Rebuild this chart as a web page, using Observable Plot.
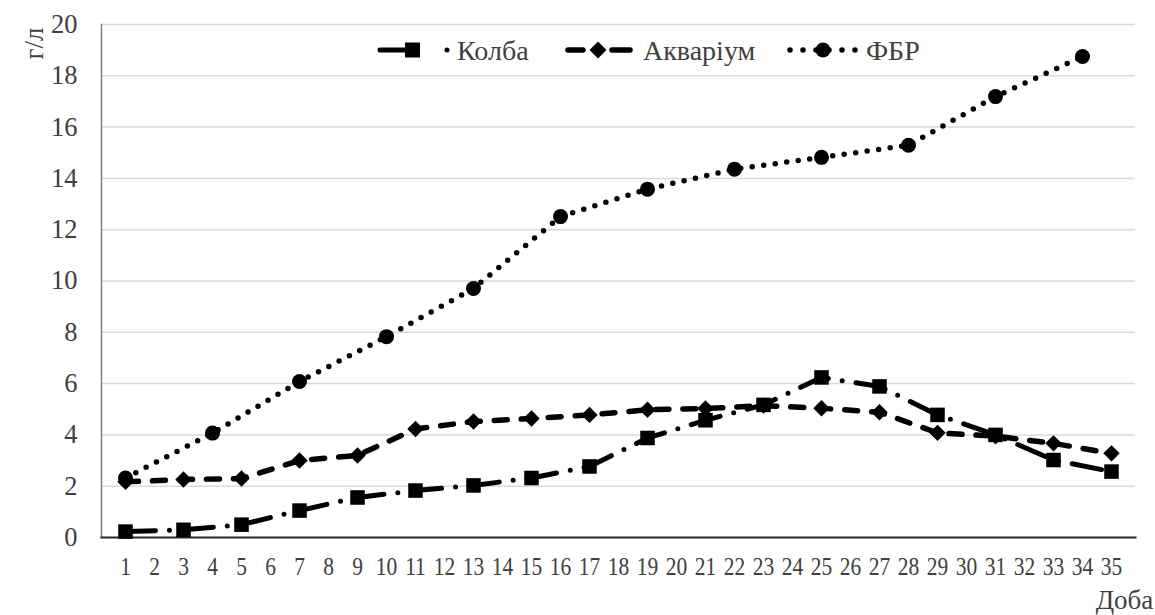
<!DOCTYPE html>
<html>
<head>
<meta charset="utf-8">
<script src="https://cdn.jsdelivr.net/npm/d3@7"></script>
<script src="https://cdn.jsdelivr.net/npm/@observablehq/plot@0.6"></script>
<style>
  html, body { margin: 0; padding: 0; background: #fff; }
  #chart { position: relative; width: 1155px; height: 615px; }
  svg, svg text { font-family: "Liberation Serif", "Times New Roman", serif; }
</style>
</head>
<body>
<div id="chart"></div>
<script>
// ---- data ----
const dayLabels = ["1","2","3","4","5","6","7","8","9","10","11","12","13","14","15","16","17","18","19","20","21","22","23","24","25","26","27","28","29","30","31","32","33","34","35"];
const yTicks = [0, 2, 4, 6, 8, 10, 12, 14, 16, 18, 20];

const seriesNames = ["Колба", "Акваріум", "ФБР"];

const kolbaDays = ["1","3","5","7","9","11","13","15","17","19","21","23","25","27","29","31","33","35"];
const kolbaVals = [0.23, 0.30, 0.50, 1.05, 1.56, 1.83, 2.03, 2.32, 2.77, 3.88, 4.57, 5.17, 6.24, 5.89, 4.78, 4.00, 3.02, 2.57];

const aquaDays = ["1","3","5","7","9","11","13","15","17","19","21","23","25","27","29","31","33","35"];
const aquaVals = [2.17, 2.26, 2.30, 3.00, 3.20, 4.23, 4.52, 4.64, 4.78, 4.98, 5.03, 5.14, 5.04, 4.88, 4.08, 3.95, 3.67, 3.28];

const fbrDays = ["1","4","7","10","13","16","19","22","25","28","31","34"];
const fbrVals = [2.32, 4.07, 6.08, 7.83, 9.71, 12.51, 13.58, 14.36, 14.82, 15.29, 17.19, 18.75];

const yLabel = "г/л";
const xLabel = "Доба";

// ---- tables built from arrays ----
const kolba = kolbaDays.map((d, i) => ({day: d, value: kolbaVals[i]}));
const aqua = aquaDays.map((d, i) => ({day: d, value: aquaVals[i]}));
const fbr = fbrDays.map((d, i) => ({day: d, value: fbrVals[i]}));

const textColor = "#404040";
const fontFamily = "Liberation Serif, Times New Roman, serif";
const styles = {
  kolba: {stroke: "#000", strokeWidth: 5, strokeDasharray: "30 14 0 14", strokeLinecap: "round"},
  aqua: {stroke: "#000", strokeWidth: 5.5, strokeDasharray: "13 14", strokeLinecap: "round"},
  fbr: {stroke: "#000", strokeWidth: 5.5, strokeDasharray: "0 11.6", strokeLinecap: "round"}
};

const chart = Plot.plot({
  width: 1155,
  height: 615,
  marginLeft: 101,
  marginRight: 20,
  marginTop: 24,
  marginBottom: 78,
  style: {fontFamily, background: "#fff"},
  x: {type: "point", domain: dayLabels, padding: 0.5},
  y: {domain: [0, 20]},
  marks: [
    Plot.gridY(yTicks.filter(t => t > 0), {stroke: "#d9d9d9", strokeOpacity: 1, strokeWidth: 1.5}),
    Plot.axisY(yTicks, {tickSize: 0, tickPadding: 24, fontSize: 26.5, fill: textColor, label: null}),
    Plot.axisX(dayLabels, {tickSize: 0, tickPadding: 20, fontSize: 25, fill: textColor, label: null}),
    Plot.frame({anchor: "left", stroke: "#7f7f7f", strokeWidth: 1.5}),
    Plot.frame({anchor: "bottom", stroke: "#262626", strokeWidth: 2}),
    Plot.line(kolba, {x: "day", y: "value", ...styles.kolba}),
    Plot.dot(kolba, {x: "day", y: "value", symbol: "square", r: 8.2, fill: "#000", stroke: "none"}),
    Plot.line(aqua, {x: "day", y: "value", ...styles.aqua}),
    Plot.dot(aqua, {x: "day", y: "value", symbol: "diamond2", r: 7.4, fill: "#000", stroke: "none"}),
    Plot.line(fbr, {x: "day", y: "value", ...styles.fbr}),
    Plot.dot(fbr, {x: "day", y: "value", symbol: "circle", r: 7.5, fill: "#000", stroke: "none"}),
    Plot.text([yLabel], {frameAnchor: "top-left", textAnchor: "middle", lineAnchor: "middle", rotate: -90, dx: -67, dy: 19, fontSize: 27, fill: textColor}),
    Plot.text([xLabel], {frameAnchor: "bottom-right", textAnchor: "middle", lineAnchor: "middle", dx: -11, dy: 63, fontSize: 27, fill: textColor})
  ]
});

// compress x tick labels horizontally a little
d3.select(chart).selectAll('g[aria-label="x-axis tick label"] text').each(function() {
  const t = this.getAttribute("transform") || "";
  this.setAttribute("transform", t + " scale(0.86,1)");
});

// ---- legend (inside svg, top) ----
const svg = d3.select(chart);
const lg = svg.append("g").attr("aria-label", "legend").attr("text-anchor", "start");
const ly = 50;
// Колба
lg.append("path").attr("d", `M380,${ly}H448`).attr("stroke", "#000").attr("stroke-width", 5)
  .attr("stroke-linecap", "round").attr("stroke-dasharray", "30 37 0 100").attr("fill", "none");
lg.append("rect").attr("x", 405).attr("y", ly - 7.5).attr("width", 15).attr("height", 15).attr("fill", "#000");
// Акваріум
lg.append("path").attr("d", `M568,${ly}H630`).attr("stroke", "#000").attr("stroke-width", 5.5)
  .attr("stroke-linecap", "round").attr("stroke-dasharray", "15 29 18").attr("fill", "none");
lg.append("path").attr("d", `M598,${ly - 8.5}L606.5,${ly}L598,${ly + 8.5}L589.5,${ly}Z`).attr("fill", "#000");
// ФБР
lg.append("path").attr("d", `M790,${ly}H857`).attr("stroke", "#000").attr("stroke-width", 5.5)
  .attr("stroke-linecap", "round").attr("stroke-dasharray", "0 13").attr("fill", "none");
lg.append("circle").attr("cx", 823).attr("cy", ly).attr("r", 7.5).attr("fill", "#000");

const legendTexts = [[seriesNames[0], 457], [seriesNames[1], 643], [seriesNames[2], 866]];
for (const [t, x] of legendTexts) {
  lg.append("text").attr("x", x).attr("y", ly).attr("dy", "0.35em")
    .style("font-family", fontFamily).style("font-size", "28px")
    .attr("fill", textColor).text(t);
}

document.getElementById("chart").appendChild(chart);
</script>
</body>
</html>
